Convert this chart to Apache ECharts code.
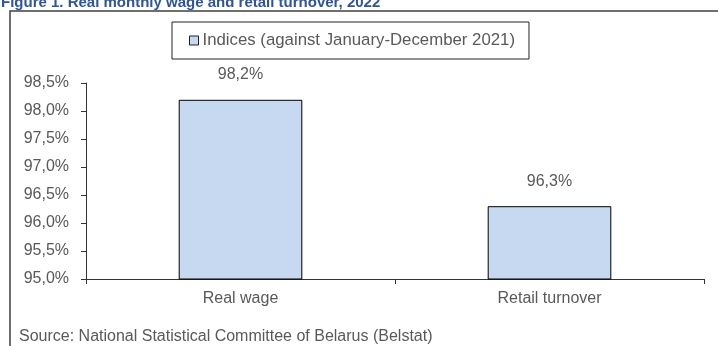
<!DOCTYPE html>
<html>
<head>
<meta charset="utf-8">
<script src="https://cdn.jsdelivr.net/npm/echarts@6/dist/echarts.min.js"></script>
<style>
  html, body { margin: 0; padding: 0; background: #ffffff; }
  #chart { width: 718px; height: 346px; }
</style>
</head>
<body>
<div id="chart"></div>
<script>
// Chart data
const categories = ['Real wage', 'Retail turnover'];
const indexValues = [98.2, 96.3];
const seriesName = 'Indices (against January-December 2021)';
const titleText = 'Figure 1. Real monthly wage and retail turnover, 2022';
const sourceText = 'Source: National Statistical Committee of Belarus (Belstat)';
const yMin = 95.0;
const yMax = 98.5;
const yStep = 0.5;

const FONT = '"Liberation Sans", Arial, sans-serif';
const TEXT_GREY = '#595959';

// Decimal comma, one digit, percent sign
const pct = v => v.toFixed(1).replace('.', ',') + '%';

const chart = echarts.init(document.getElementById('chart'), null, { renderer: 'canvas' });

chart.setOption({
  backgroundColor: '#ffffff',
  animation: false,
  textStyle: { fontFamily: FONT },
  graphic: [
    {
      type: 'text',
      left: 1,
      top: -5,
      style: {
        text: titleText,
        font: 'bold 15px ' + FONT,
        fill: '#2F5597'
      }
    },
    {
      type: 'rect',
      shape: { x: 10, y: 11, width: 720, height: 360 },
      style: { fill: 'none', stroke: '#404040', lineWidth: 1.5 },
      z: -1
    },
    {
      type: 'text',
      left: 19,
      top: 329,
      style: {
        text: sourceText,
        font: '16px ' + FONT,
        fill: TEXT_GREY
      }
    }
  ],
  legend: {
    data: [seriesName],
    left: 172,
    top: 22,
    padding: [10, 14, 10, 17],
    borderColor: '#222222',
    borderWidth: 1,
    itemWidth: 9,
    itemHeight: 9,
    icon: 'rect',
    itemStyle: { borderColor: '#222222', borderWidth: 1 },
    textStyle: { color: TEXT_GREY, fontSize: 16.8, fontFamily: FONT, padding: [0, 0, 0, -1] }
  },
  grid: { left: 86, right: 14, top: 83, bottom: 67, containLabel: false },
  xAxis: {
    type: 'category',
    data: categories,
    boundaryGap: true,
    axisLine: { show: true, lineStyle: { color: '#333333', width: 1 } },
    axisTick: { show: true, length: 5, alignWithLabel: false, lineStyle: { color: '#333333' } },
    axisLabel: { color: TEXT_GREY, fontSize: 16, margin: 12, fontFamily: FONT },
    splitLine: { show: false }
  },
  yAxis: {
    type: 'value',
    min: yMin,
    max: yMax,
    interval: yStep,
    axisLine: { show: true, lineStyle: { color: '#333333', width: 1 } },
    axisTick: { show: true, length: 5, lineStyle: { color: '#333333' } },
    axisLabel: { color: TEXT_GREY, fontSize: 16, margin: 17, fontFamily: FONT, formatter: pct },
    splitLine: { show: false }
  },
  series: [
    {
      name: seriesName,
      type: 'bar',
      data: indexValues,
      barWidth: '40%',
      itemStyle: { color: '#C6D9F1', borderColor: '#000000', borderWidth: 1 },
      label: {
        show: true,
        position: 'top',
        distance: 17,
        color: TEXT_GREY,
        fontSize: 16,
        fontFamily: FONT,
        formatter: p => pct(p.value)
      }
    }
  ]
});
</script>
</body>
</html>
